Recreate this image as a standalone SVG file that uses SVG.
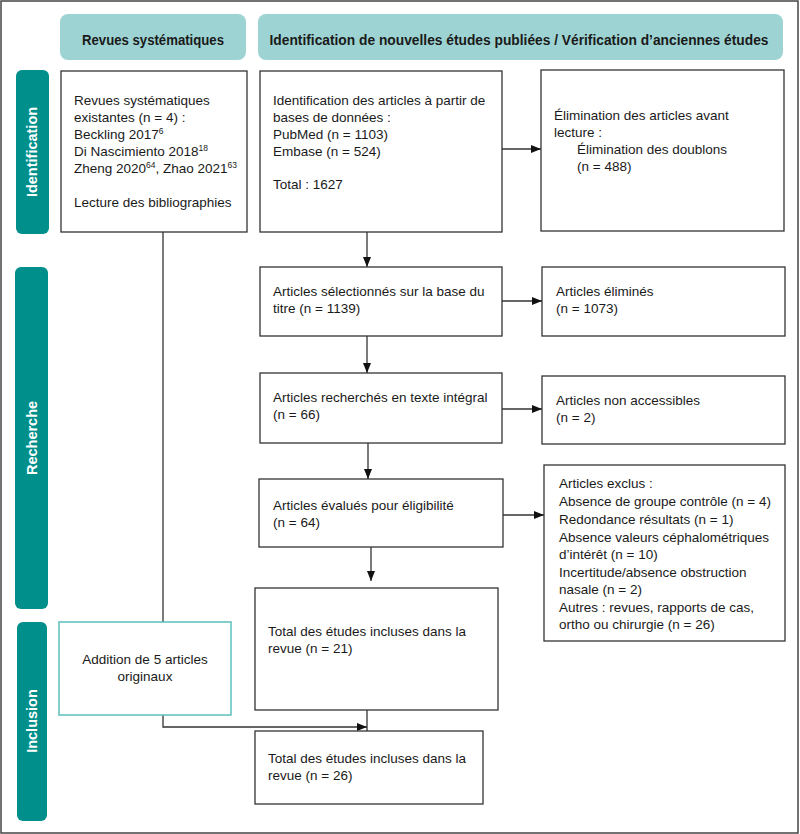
<svg xmlns="http://www.w3.org/2000/svg" width="800" height="834" viewBox="0 0 800 834">
<style>
  text { font-family: "Liberation Sans", Arial, sans-serif; fill: #1a1a1a; }
  .t { font-size: 13.5px; }
  .hdr { fill: #9dd4d3; }
  .hdrt { font-size: 14.5px; font-weight: bold; text-anchor: middle; }
  .side { fill: #008f8b; }
  .sidet { font-size: 14.5px; font-weight: bold; fill: #ffffff; text-anchor: middle; }
  .box { fill: #ffffff; stroke: #333333; stroke-width: 1.3; }
  .tbox { fill: #ffffff; stroke: #5cbfbd; stroke-width: 1.5; }
  .con { fill: none; stroke: #333333; stroke-width: 1.3; }
  .sup { font-size: 8.5px; }
</style>
<defs>
  <marker id="arr" markerWidth="10" markerHeight="8" refX="10" refY="4" orient="auto" markerUnits="userSpaceOnUse">
    <path d="M0,0 L10,4 L0,8 Z" fill="#111111"/>
  </marker>
</defs>
<rect x="1" y="1" width="797" height="832" fill="#ffffff" stroke="#444444" stroke-width="1.5"/>

<g id="header-revues">
  <rect class="hdr" x="60" y="14" width="186" height="46" rx="8"/>
  <text class="hdrt" x="153" y="45" textLength="142" lengthAdjust="spacingAndGlyphs">Revues systématiques</text>
</g>
<g id="header-identification">
  <rect class="hdr" x="258" y="14" width="525" height="46" rx="8"/>
  <text class="hdrt" x="519" y="45" textLength="499" lengthAdjust="spacingAndGlyphs">Identification de nouvelles études publiées / Vérification d’anciennes études</text>
</g>

<g id="side-identification">
  <rect class="side" x="16" y="70" width="33" height="164" rx="6"/>
  <text class="sidet" transform="translate(37,152) rotate(-90)">Identification</text>
</g>
<g id="side-recherche">
  <rect class="side" x="15" y="267" width="33" height="342" rx="6"/>
  <text class="sidet" transform="translate(37,438) rotate(-90)">Recherche</text>
</g>
<g id="side-inclusion">
  <rect class="side" x="17" y="622" width="30" height="199" rx="6"/>
  <text class="sidet" transform="translate(37,721) rotate(-90)">Inclusion</text>
</g>

<g id="connectors">
  <line class="con" x1="367" y1="232" x2="367" y2="267" marker-end="url(#arr)"/>
  <line class="con" x1="502" y1="149" x2="541" y2="149" marker-end="url(#arr)"/>
  <line class="con" x1="367" y1="336" x2="367" y2="373" marker-end="url(#arr)"/>
  <line class="con" x1="502" y1="301" x2="542" y2="301" marker-end="url(#arr)"/>
  <line class="con" x1="368" y1="443" x2="368" y2="479" marker-end="url(#arr)"/>
  <line class="con" x1="502" y1="409" x2="542" y2="409" marker-end="url(#arr)"/>
  <line class="con" x1="371" y1="547" x2="371" y2="581" marker-end="url(#arr)"/>
  <line class="con" x1="503" y1="515" x2="544" y2="515" marker-end="url(#arr)"/>
  <line class="con" x1="163" y1="232" x2="163" y2="622"/>
  <polyline class="con" points="163,715 163,727 367,727" marker-end="url(#arr)"/>
  <line class="con" x1="367" y1="710" x2="367" y2="746" marker-end="url(#arr)"/>
</g>

<g id="revues-existantes">
  <rect class="box" x="61" y="71" width="186" height="161"/>
  <text class="t" x="74" y="105">Revues systématiques</text>
  <text class="t" x="74" y="122">existantes (n = 4) :</text>
  <text class="t" x="74" y="139">Beckling 2017<tspan class="sup" dy="-5">6</tspan></text>
  <text class="t" x="74" y="156">Di Nascimiento 2018<tspan class="sup" dy="-5">18</tspan></text>
  <text class="t" x="74" y="173">Zheng 2020<tspan class="sup" dy="-5">64</tspan><tspan dy="5">, Zhao 2021</tspan><tspan class="sup" dy="-5">63</tspan></text>
  <text class="t" x="74" y="207">Lecture des bibliographies</text>
</g>

<g id="identification-articles">
  <rect class="box" x="260" y="71" width="242" height="161"/>
  <text class="t" x="273" y="105">Identification des articles à partir de</text>
  <text class="t" x="273" y="122">bases de données :</text>
  <text class="t" x="273" y="139">PubMed (n = 1103)</text>
  <text class="t" x="273" y="156">Embase (n = 524)</text>
  <text class="t" x="273" y="189">Total : 1627</text>
</g>

<g id="elimination-avant-lecture">
  <rect class="box" x="541" y="70" width="243" height="161"/>
  <text class="t" x="554" y="120">Élimination des articles avant</text>
  <text class="t" x="554" y="137">lecture :</text>
  <text class="t" x="577" y="154">Élimination des doublons</text>
  <text class="t" x="577" y="171">(n = 488)</text>
</g>

<g id="articles-selectionnes">
  <rect class="box" x="260" y="267" width="242" height="69"/>
  <text class="t" x="273" y="296">Articles sélectionnés sur la base du</text>
  <text class="t" x="273" y="313">titre (n = 1139)</text>
</g>

<g id="articles-elimines">
  <rect class="box" x="542" y="267" width="243" height="69"/>
  <text class="t" x="556" y="296">Articles éliminés</text>
  <text class="t" x="556" y="313">(n = 1073)</text>
</g>

<g id="articles-recherches">
  <rect class="box" x="260" y="373" width="242" height="70"/>
  <text class="t" x="273" y="402">Articles recherchés en texte intégral</text>
  <text class="t" x="273" y="419">(n = 66)</text>
</g>

<g id="articles-non-accessibles">
  <rect class="box" x="542" y="376" width="243" height="68"/>
  <text class="t" x="556" y="405">Articles non accessibles</text>
  <text class="t" x="556" y="422">(n = 2)</text>
</g>

<g id="articles-evalues">
  <rect class="box" x="259" y="479" width="244" height="68"/>
  <text class="t" x="273" y="510">Articles évalués pour éligibilité</text>
  <text class="t" x="273" y="527">(n = 64)</text>
</g>

<g id="articles-exclus">
  <rect class="box" x="544" y="465" width="241" height="176"/>
  <text class="t" x="559" y="488">Articles exclus :</text>
  <text class="t" x="559" y="506">Absence de groupe contrôle (n = 4)</text>
  <text class="t" x="559" y="524">Redondance résultats (n = 1)</text>
  <text class="t" x="559" y="542">Absence valeurs céphalométriques</text>
  <text class="t" x="559" y="559">d’intérêt (n = 10)</text>
  <text class="t" x="559" y="577">Incertitude/absence obstruction</text>
  <text class="t" x="559" y="594">nasale (n = 2)</text>
  <text class="t" x="559" y="612">Autres : revues, rapports de cas,</text>
  <text class="t" x="559" y="629">ortho ou chirurgie (n = 26)</text>
</g>

<g id="total-21">
  <rect class="box" x="255" y="588" width="243" height="122"/>
  <text class="t" x="268" y="636">Total des études incluses dans la</text>
  <text class="t" x="268" y="653">revue (n = 21)</text>
</g>

<g id="addition-articles">
  <rect class="tbox" x="59" y="622" width="172" height="93"/>
  <text class="t" x="145" y="664" text-anchor="middle">Addition de 5 articles</text>
  <text class="t" x="145" y="681" text-anchor="middle">originaux</text>
</g>

<g id="total-26">
  <rect class="box" x="255" y="731" width="228" height="73"/>
  <text class="t" x="268" y="763">Total des études incluses dans la</text>
  <text class="t" x="268" y="780">revue (n = 26)</text>
</g>
</svg>
